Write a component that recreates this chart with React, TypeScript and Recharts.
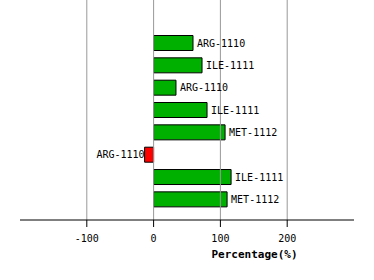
import React from "react";
import { BarChart, Bar, XAxis, YAxis, Cell, LabelList, ReferenceLine } from "recharts";

const residues = ["ARG-1110", "ILE-1111", "ARG-1110", "ILE-1111", "MET-1112", "ARG-1110", "ILE-1111", "MET-1112"];
const values = [59, 72.5, 33.5, 80, 107, -13.5, 116, 110];
const xTicks = [-100, 0, 100, 200];
const xDomain = [-200, 300];

const data = residues.map((r, i) => ({ key: String(i), residue: r, value: values[i] }));

const FONT = "'DejaVu Sans Mono', monospace";

const BarLabel = (props: any) => {
  const { x, y, width, height, index } = props;
  const v = values[index];
  const left = Math.min(x, x + width);
  const right = Math.max(x, x + width);
  const cy = y + height / 2;
  if (v < 0) {
    return (
      <text x={left} y={cy} dy="0.35em" textAnchor="end" fontFamily={FONT} fontSize={10} fill="#000">
        {residues[index]}
      </text>
    );
  }
  return (
    <text x={right + 4} y={cy} dy="0.35em" textAnchor="start" fontFamily={FONT} fontSize={10} fill="#000">
      {residues[index]}
    </text>
  );
};

const AxisTitle = (props: any) => {
  const vb = props.viewBox;
  return (
    <text x={vb.x + vb.width * 0.702} y={vb.y + 38} textAnchor="middle" fontFamily={FONT} fontSize={11} fontWeight="bold" fill="#000">
      Percentage(%)
    </text>
  );
};

export default function App() {
  return (
    <div style={{ position: "absolute", left: 0, top: 0, width: 374, height: 280, background: "#fff" }}>
      <BarChart
        width={374}
        height={280}
        data={data}
        layout="vertical"
        margin={{ top: 0, right: 20, bottom: 0, left: 20 }}
      >
        {xTicks.map((t) => (
          <ReferenceLine key={t} x={t} stroke="#999" strokeWidth={1} />
        ))}
        <XAxis
          type="number"
          domain={xDomain}
          ticks={xTicks}
          height={60}
          axisLine={{ stroke: "#000" }}
          tickLine={{ stroke: "#000" }}
          tickSize={7}
          tickMargin={8}
          tick={{ fontFamily: FONT, fontSize: 10, fill: "#000" }}
          label={<AxisTitle />}
        />
        <YAxis type="category" dataKey="key" hide padding={{ top: 31.5, bottom: 9.8 }} />
        <Bar dataKey="value" barSize={15} stroke="#000" strokeWidth={1} isAnimationActive={false}>
          {data.map((d, i) => (
            <Cell key={i} fill={d.value < 0 ? "#ff0000" : "#00b000"} />
          ))}
          <LabelList dataKey="value" content={<BarLabel />} />
        </Bar>
      </BarChart>
    </div>
  );
}
